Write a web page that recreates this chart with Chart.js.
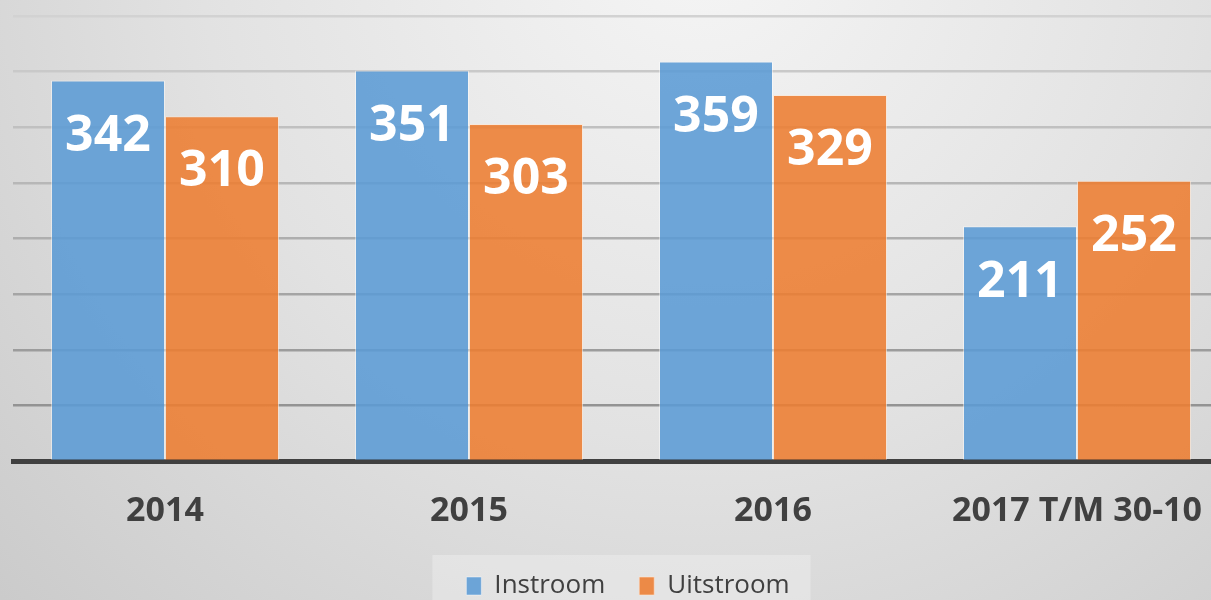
<!DOCTYPE html>
<html>
<head>
<meta charset="utf-8">
<script src="https://cdn.jsdelivr.net/npm/chart.js@4/dist/chart.umd.min.js"></script>
<style>
  html, body { margin: 0; padding: 0; overflow: hidden; background: #d8d8d8; }
  canvas { display: block; }
</style>
</head>
<body>
<canvas id="chart" width="1242" height="609"></canvas>
<script>
// ── data ────────────────────────────────────────────
const categories = ['2014', '2015', '2016', '2017 T/M 30-10'];
const instroom   = [342, 351, 359, 211];
const uitstroom  = [310, 303, 329, 252];
const seriesNames = ['Instroom', 'Uitstroom'];
const yMin = 0, yMax = 400, yStep = 50;

const FONT = "'Open Sans', sans-serif";
const TEXT_DARK = '#404040';

// achtergrond met lichte radiale gradient + legenda-kader
const backgroundPlugin = {
  id: 'bg',
  afterLayout(chart) {
    // legenda iets naar rechts, zoals in het origineel
    const lg = chart.legend;
    if (lg) {
      lg.left += 7;
      lg.right += 7;
    }
  },
  beforeDraw(chart) {
    const { ctx, width, height } = chart;
    ctx.save();
    const g = ctx.createRadialGradient(700, -60, 0, 700, -60, 1000);
    g.addColorStop(0, '#f5f5f5');
    g.addColorStop(0.5, '#e2e2e2');
    g.addColorStop(1, '#c9c9c9');
    ctx.fillStyle = g;
    ctx.fillRect(0, 0, width, height);

    const boxes = chart.legend && chart.legend.legendHitBoxes;
    if (boxes && boxes.length) {
      const left = Math.min(...boxes.map(b => b.left)) - 34;
      const right = Math.max(...boxes.map(b => b.left + b.width)) + 21;
      const top = boxes[0].top - 18;
      ctx.fillStyle = 'rgba(240,240,240,0.45)';
      ctx.fillRect(left, top, right - left, height - top);
    }
    ctx.restore();
  },
};

// waardes in wit binnen de staaf
const valueLabelPlugin = {
  id: 'valueLabels',
  afterDatasetsDraw(chart) {
    const { ctx } = chart;
    ctx.save();
    ctx.font = `bold 50px ${FONT}`;
    ctx.fillStyle = '#ffffff';
    ctx.textAlign = 'center';
    ctx.textBaseline = 'middle';
    chart.data.datasets.forEach((ds, i) => {
      chart.getDatasetMeta(i).data.forEach((bar, j) => {
        ctx.fillText(String(ds.data[j]), bar.x, bar.y + 56);
      });
    });
    ctx.restore();
  },
};

function gridColor(ctx) {
  const v = ctx.tick ? ctx.tick.value : 0;
  if (v === 0) return 'rgba(0,0,0,0)';
  // boven licht, onder donkerder
  const t = v / yMax;
  const c = Math.round(138 + t * 72);
  return `rgb(${c},${c},${c})`;
}

new Chart(document.getElementById('chart'), {
  type: 'bar',
  data: {
    labels: categories,
    datasets: [
      {
        label: seriesNames[0],
        data: instroom,
        backgroundColor: 'rgba(91,155,213,0.88)',
        borderColor: 'rgba(255,255,255,0.45)',
        borderWidth: 1,
      },
      {
        label: seriesNames[1],
        data: uitstroom,
        backgroundColor: 'rgba(237,125,49,0.88)',
        borderColor: 'rgba(255,230,210,0.6)',
        borderWidth: 1,
      },
    ],
  },
  options: {
    responsive: false,
    animation: false,
    devicePixelRatio: 1,
    categoryPercentage: 0.75,
    barPercentage: 1,
    layout: { padding: { top: 16, left: 13, right: 13, bottom: 0 } },
    plugins: {
      tooltip: { enabled: false },
      legend: {
        position: 'bottom',
        labels: {
          font: { family: FONT, size: 26 },
          color: TEXT_DARK,
          boxWidth: 15,
          boxHeight: 18,
          padding: 34,
        },
      },
    },
    scales: {
      x: {
        grid: { display: false, drawTicks: false },
        border: { display: true, color: '#404040', width: 5 },
        ticks: {
          font: { family: FONT, size: 34, weight: 'bold' },
          color: TEXT_DARK,
          padding: 30,
          maxRotation: 0,
          autoSkip: false,
        },
        afterFit(scale) { scale.height = 78; },
      },
      y: {
        min: yMin,
        max: yMax,
        ticks: { display: false, stepSize: yStep },
        grid: { color: gridColor, lineWidth: 2.5, drawTicks: false },
        border: { display: false },
      },
    },
  },
  plugins: [backgroundPlugin, valueLabelPlugin],
});
</script>
</body>
</html>
